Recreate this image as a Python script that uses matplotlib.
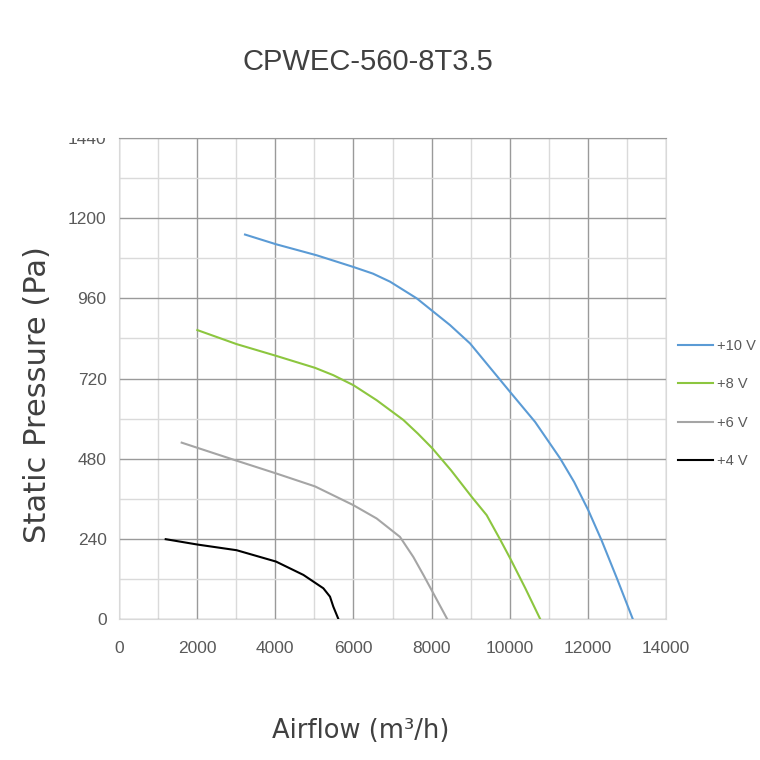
import matplotlib
matplotlib.use('Agg')
import matplotlib.pyplot as plt
from matplotlib.ticker import MultipleLocator
from matplotlib.transforms import Bbox, TransformedBbox

plt.rcParams['font.family'] = ['Liberation Sans', 'DejaVu Sans']

TITLE = 'CPWEC-560-8T3.5'
XLABEL = 'Airflow (m³/h)'
YLABEL = 'Static Pressure (Pa)'

# +10 V
flow_10 = [3225, 4018, 5057, 5997, 6500, 6936, 7620, 8472, 8985, 10008, 10650, 11290, 11650, 12010, 12350, 12750, 13150]
pres_10 = [1151, 1122, 1089, 1054, 1034, 1010, 960, 880, 825, 680, 590, 481, 410, 326, 236, 120, 0]
# +8 V
flow_8 = [2005, 3010, 4018, 5017, 5485, 6000, 6595, 7277, 7650, 8020, 8500, 9025, 9410, 9750, 10010, 10400, 10780]
pres_8 = [865, 823, 788, 752, 730, 700, 655, 596, 555, 511, 445, 366, 311, 239, 182, 92, 0]
# +6 V
flow_6 = [1604, 3010, 4018, 5017, 5997, 6595, 7190, 7532, 7800, 8045, 8400]
pres_6 = [528, 474, 436, 397, 341, 301, 246, 186, 130, 77, 0]
# +4 V
flow_4 = [1195, 2005, 3010, 4018, 4720, 5230, 5400, 5485, 5615]
pres_4 = [239, 223, 206, 172, 132, 92, 67, 37, 0]

series = [
    ('+10 V', flow_10, pres_10, '#5b9bd5'),
    ('+8 V', flow_8, pres_8, '#8cc63f'),
    ('+6 V', flow_6, pres_6, '#a5a5a5'),
    ('+4 V', flow_4, pres_4, '#000000'),
]

fig = plt.figure(figsize=(7.6, 7.6), dpi=100)
ax = fig.add_axes([0.1566, 0.1855, 0.7197, 0.6329])

for label, x, y, c in series:
    ax.plot(x, y, color=c, lw=1.5, label=label, zorder=3, solid_joinstyle='round')

ax.set_xlim(0, 14000)
ax.set_ylim(0, 1440)
ax.xaxis.set_major_locator(MultipleLocator(2000))
ax.xaxis.set_minor_locator(MultipleLocator(1000))
ax.yaxis.set_major_locator(MultipleLocator(240))
ax.yaxis.set_minor_locator(MultipleLocator(120))
ax.grid(which='major', color='#9a9a9a', lw=1.0)
ax.grid(which='minor', color='#dadada', lw=1.0)
ax.set_axisbelow(True)
ax.tick_params(which='both', length=0, labelsize=12.5, colors='#595959')
ax.tick_params(axis='x', pad=16)
ax.tick_params(axis='y', pad=9)
for s in ax.spines.values():
    s.set_color('#d9d9d9')
ax.spines['top'].set_color('#9a9a9a')

fig.text(0.484, 1 - 62 / 760, TITLE, fontsize=21, color='#404040',
         ha='center', va='center')
fig.text(0.474, 1 - 731 / 760, XLABEL, fontsize=18.5, color='#404040',
         ha='center', va='center', family=['DejaVu Sans'])
fig.text(38 / 760, 1 - 395 / 760, YLABEL, fontsize=22, color='#404040',
         ha='center', va='center', rotation=90, family=['DejaVu Sans'])

leg = ax.legend(loc='center left', bbox_to_anchor=(678 / 760, 1 - 403.5 / 760),
                bbox_transform=fig.transFigure, frameon=False, borderpad=0,
                borderaxespad=0, fontsize=10.5, labelspacing=1.68,
                handlelength=2.4, handletextpad=0.25, labelcolor='#595959')

fig.canvas.draw()
clip = TransformedBbox(Bbox([[0, 0], [1, 0.818]]), fig.transFigure)
for lab in ax.get_yticklabels():
    if lab.get_text() == '1440':
        lab.set_clip_on(True)
        lab.set_clip_box(clip)

fig.savefig('out.png', dpi=100)
